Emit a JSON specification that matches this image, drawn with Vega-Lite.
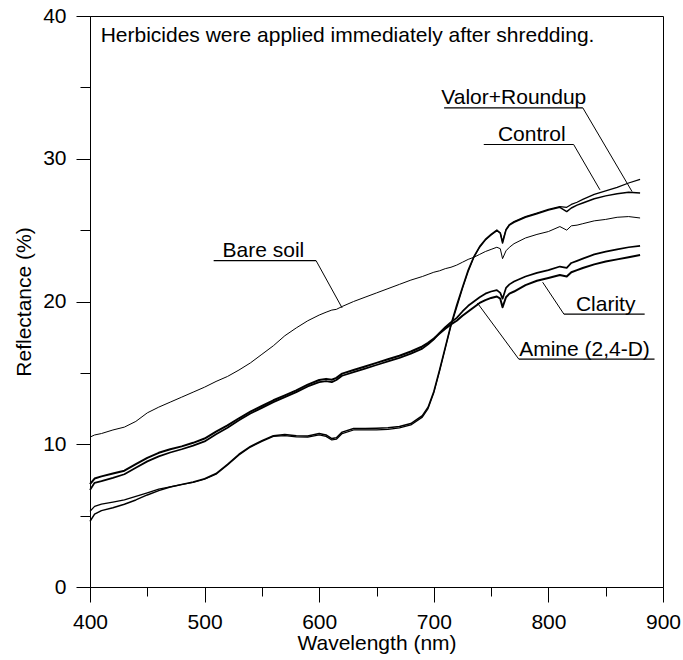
{
 "$schema": "https://vega.github.io/schema/vega-lite/v6.json",
 "width": 573,
 "height": 571,
 "autosize": {"type": "none"},
 "padding": {"left": 90, "top": 16, "right": 20, "bottom": 73},
 "config": {
  "view": {"stroke": "#000", "strokeWidth": 1},
  "font": "Liberation Sans",
  "axis": {"labelFont": "Liberation Sans", "titleFont": "Liberation Sans", "labelFontSize": 21, "titleFontSize": 21, "titleFontWeight": "normal", "labelColor": "#000", "titleColor": "#000", "domainColor": "#000", "tickColor": "#000", "grid": false, "labelFlush": false}
 },
 "datasets": {
  "spectra": [
   {"w":400,"bare":10.5,"control":5.3,"valor":4.6,"amine":6.8,"clarity":7.2},
   {"w":404,"bare":10.65,"control":5.65,"valor":5.1,"amine":7.3,"clarity":7.6},
   {"w":410,"bare":10.75,"control":5.8,"valor":5.35,"amine":7.42,"clarity":7.75},
   {"w":420,"bare":11.0,"control":5.95,"valor":5.55,"amine":7.65,"clarity":7.95},
   {"w":430,"bare":11.2,"control":6.1,"valor":5.8,"amine":7.9,"clarity":8.15},
   {"w":440,"bare":11.6,"control":6.35,"valor":6.1,"amine":8.35,"clarity":8.6},
   {"w":450,"bare":12.2,"control":6.6,"valor":6.45,"amine":8.8,"clarity":9.05},
   {"w":460,"bare":12.6,"control":6.85,"valor":6.75,"amine":9.15,"clarity":9.4},
   {"w":470,"bare":12.95,"control":7.02,"valor":7.0,"amine":9.42,"clarity":9.65},
   {"w":480,"bare":13.3,"control":7.18,"valor":7.18,"amine":9.65,"clarity":9.85},
   {"w":490,"bare":13.65,"control":7.32,"valor":7.35,"amine":9.9,"clarity":10.1},
   {"w":500,"bare":14.0,"control":7.55,"valor":7.58,"amine":10.2,"clarity":10.4},
   {"w":510,"bare":14.4,"control":7.9,"valor":7.95,"amine":10.7,"clarity":10.88},
   {"w":520,"bare":14.75,"control":8.55,"valor":8.6,"amine":11.15,"clarity":11.32},
   {"w":530,"bare":15.2,"control":9.25,"valor":9.3,"amine":11.68,"clarity":11.82},
   {"w":540,"bare":15.7,"control":9.8,"valor":9.85,"amine":12.15,"clarity":12.28},
   {"w":550,"bare":16.3,"control":10.2,"valor":10.25,"amine":12.55,"clarity":12.68},
   {"w":560,"bare":16.9,"control":10.55,"valor":10.6,"amine":12.95,"clarity":13.08},
   {"w":570,"bare":17.6,"control":10.6,"valor":10.68,"amine":13.3,"clarity":13.42},
   {"w":580,"bare":18.15,"control":10.52,"valor":10.6,"amine":13.65,"clarity":13.78},
   {"w":590,"bare":18.65,"control":10.5,"valor":10.58,"amine":14.05,"clarity":14.18},
   {"w":600,"bare":19.05,"control":10.65,"valor":10.75,"amine":14.35,"clarity":14.5},
   {"w":606,"bare":19.25,"control":10.55,"valor":10.65,"amine":14.42,"clarity":14.58},
   {"w":611,"bare":19.4,"control":10.3,"valor":10.4,"amine":14.35,"clarity":14.52},
   {"w":615,"bare":19.45,"control":10.35,"valor":10.45,"amine":14.5,"clarity":14.65},
   {"w":620,"bare":19.65,"control":10.75,"valor":10.85,"amine":14.8,"clarity":14.95},
   {"w":630,"bare":20.0,"control":11.0,"valor":11.1,"amine":15.05,"clarity":15.2},
   {"w":640,"bare":20.3,"control":11.0,"valor":11.1,"amine":15.3,"clarity":15.45},
   {"w":650,"bare":20.6,"control":11.0,"valor":11.12,"amine":15.55,"clarity":15.7},
   {"w":660,"bare":20.9,"control":11.05,"valor":11.15,"amine":15.8,"clarity":15.95},
   {"w":670,"bare":21.2,"control":11.15,"valor":11.25,"amine":16.05,"clarity":16.2},
   {"w":680,"bare":21.5,"control":11.35,"valor":11.45,"amine":16.35,"clarity":16.5},
   {"w":690,"bare":21.75,"control":11.9,"valor":12.0,"amine":16.7,"clarity":16.85},
   {"w":695,"bare":21.9,"control":12.5,"valor":12.6,"amine":17.0,"clarity":17.1},
   {"w":700,"bare":22.05,"control":13.6,"valor":13.7,"amine":17.35,"clarity":17.4},
   {"w":705,"bare":22.15,"control":15.1,"valor":15.2,"amine":17.8,"clarity":17.75},
   {"w":710,"bare":22.3,"control":16.7,"valor":16.8,"amine":18.2,"clarity":18.1},
   {"w":715,"bare":22.4,"control":18.3,"valor":18.4,"amine":18.55,"clarity":18.4},
   {"w":720,"bare":22.55,"control":19.6,"valor":19.75,"amine":18.85,"clarity":18.65},
   {"w":725,"bare":22.75,"control":20.9,"valor":21.0,"amine":19.3,"clarity":19.0},
   {"w":730,"bare":22.95,"control":22.1,"valor":22.2,"amine":19.7,"clarity":19.3},
   {"w":735,"bare":23.1,"control":23.1,"valor":23.15,"amine":20.0,"clarity":19.6},
   {"w":740,"bare":23.3,"control":23.8,"valor":23.85,"amine":20.3,"clarity":19.9},
   {"w":745,"bare":23.5,"control":24.3,"valor":24.35,"amine":20.55,"clarity":20.1},
   {"w":750,"bare":23.65,"control":24.65,"valor":24.7,"amine":20.7,"clarity":20.25},
   {"w":755,"bare":23.8,"control":24.95,"valor":25.0,"amine":20.8,"clarity":20.35},
   {"w":758,"bare":23.7,"control":24.8,"valor":24.8,"amine":20.6,"clarity":20.2},
   {"w":760,"bare":23.0,"control":24.2,"valor":24.1,"amine":20.2,"clarity":19.6},
   {"w":763,"bare":23.55,"control":25.05,"valor":25.0,"amine":20.95,"clarity":20.3},
   {"w":766,"bare":23.8,"control":25.4,"valor":25.35,"amine":21.2,"clarity":20.55},
   {"w":770,"bare":24.05,"control":25.6,"valor":25.55,"amine":21.4,"clarity":20.7},
   {"w":780,"bare":24.45,"control":25.95,"valor":25.9,"amine":21.75,"clarity":21.15},
   {"w":790,"bare":24.7,"control":26.2,"valor":26.15,"amine":22.0,"clarity":21.45},
   {"w":800,"bare":24.9,"control":26.45,"valor":26.4,"amine":22.2,"clarity":21.65},
   {"w":810,"bare":25.25,"control":26.65,"valor":26.6,"amine":22.45,"clarity":21.85},
   {"w":816,"bare":25.0,"control":26.6,"valor":26.3,"amine":22.35,"clarity":21.75},
   {"w":820,"bare":25.3,"control":26.8,"valor":26.55,"amine":22.7,"clarity":22.05},
   {"w":825,"bare":25.35,"control":26.95,"valor":26.75,"amine":22.85,"clarity":22.2},
   {"w":830,"bare":25.45,"control":27.15,"valor":26.9,"amine":23.0,"clarity":22.35},
   {"w":840,"bare":25.65,"control":27.5,"valor":27.2,"amine":23.3,"clarity":22.6},
   {"w":850,"bare":25.75,"control":27.75,"valor":27.4,"amine":23.5,"clarity":22.8},
   {"w":860,"bare":25.9,"control":28.0,"valor":27.55,"amine":23.65,"clarity":22.95},
   {"w":870,"bare":25.95,"control":28.3,"valor":27.65,"amine":23.8,"clarity":23.1},
   {"w":880,"bare":25.85,"control":28.55,"valor":27.6,"amine":23.9,"clarity":23.25}
  ],
  "labels": [
   {"label":"Valor+Roundup","tx":769.8,"ty":33.82,"u1":709,"u2":830,"uy":33.57,"l1x":830,"l1y":33.57,"l2x":873,"l2y":27.7},
   {"label":"Control","tx":785.5,"ty":31.25,"u1":743.6,"u2":822,"uy":31.0,"l1x":822,"l1y":31.0,"l2x":845,"l2y":27.82},
   {"label":"Bare soil","tx":551.3,"ty":23.1,"u1":507.9,"u2":597.3,"uy":22.86,"l1x":597.3,"l1y":22.86,"l2x":620,"l2y":19.55},
   {"label":"Clarity","tx":850,"ty":19.36,"u1":813.5,"u2":884,"uy":19.12,"l1x":813.5,"l1y":19.12,"l2x":795,"l2y":21.35},
   {"label":"Amine (2,4-D)","tx":831.5,"ty":16.2,"u1":774.2,"u2":892.6,"uy":15.96,"l1x":774.2,"l1y":15.96,"l2x":738,"l2y":19.9}
  ],
  "notes": [
   {"note":"Herbicides were applied immediately after shredding.","x":409.3,"y":38.2}
  ]
 },
 "layer": [
  {
   "data": {"name": "spectra"},
   "transform": [{"fold": ["bare","control","valor","amine","clarity"], "as": ["series","r"]}],
   "mark": {"type": "line", "color": "#000", "strokeJoin": "round"},
   "encoding": {
    "x": {"field": "w", "type": "quantitative", "scale": {"domain": [400,900], "nice": false}, "axis": {"orient": "bottom", "values": [400,500,600,700,800,900], "tickSize": 15, "labelPadding": 9, "title": "Wavelength (nm)", "titlePadding": 0}},
    "y": {"field": "r", "type": "quantitative", "scale": {"domain": [0,40], "nice": false}, "axis": {"orient": "left", "values": [0,10,20,30,40], "tickSize": 14, "labelPadding": 10, "title": "Reflectance (%)", "titlePadding": 8}},
    "detail": {"field": "series"},
    "strokeWidth": {"field": "series", "type": "nominal", "scale": {"domain": ["bare","control","valor","amine","clarity"], "range": [1,2,1,2,1]}, "legend": null}
   }
  },
  {
   "data": {"name": "labels"},
   "mark": {"type": "text", "font": "Liberation Sans", "fontSize": 21, "align": "center", "baseline": "alphabetic", "color": "#000"},
   "encoding": {
    "x": {"field": "tx", "type": "quantitative", "axis": {"orient": "bottom", "values": [450,550,650,750,850], "tickSize": 9, "labels": false, "domain": false, "title": null}},
    "y": {"field": "ty", "type": "quantitative", "axis": {"orient": "left", "values": [5,15,25,35], "tickSize": 10, "labels": false, "domain": false, "title": null}},
    "text": {"field": "label"}
   }
  },
  {
   "data": {"name": "labels"},
   "mark": {"type": "rule", "color": "#000", "strokeWidth": 1.2},
   "encoding": {
    "x": {"field": "u1", "type": "quantitative", "axis": null},
    "x2": {"field": "u2"},
    "y": {"field": "uy", "type": "quantitative", "axis": null}
   }
  },
  {
   "data": {"name": "labels"},
   "mark": {"type": "rule", "color": "#000", "strokeWidth": 1},
   "encoding": {
    "x": {"field": "l1x", "type": "quantitative", "axis": null},
    "x2": {"field": "l2x"},
    "y": {"field": "l1y", "type": "quantitative", "axis": null},
    "y2": {"field": "l2y"}
   }
  },
  {
   "data": {"name": "notes"},
   "mark": {"type": "text", "font": "Liberation Sans", "fontSize": 21, "align": "left", "baseline": "alphabetic", "color": "#000"},
   "encoding": {
    "x": {"field": "x", "type": "quantitative", "axis": null},
    "y": {"field": "y", "type": "quantitative", "axis": null},
    "text": {"field": "note"}
   }
  }
 ],
 "resolve": {"axis": {"x": "independent", "y": "independent"}}
}
